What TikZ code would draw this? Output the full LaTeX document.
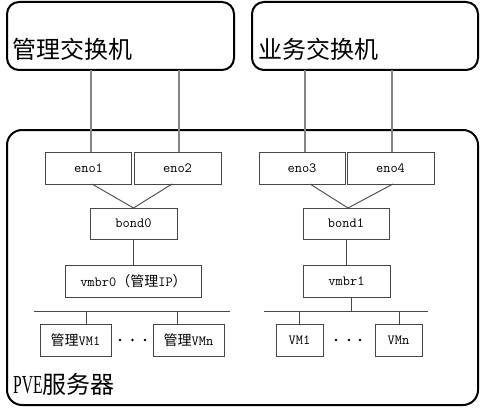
\documentclass[tikz,border=0pt]{standalone}
\usepackage{fontspec}
\usepackage{graphicx}
\setmainfont{Liberation Serif}
\newfontfamily\cjk{Noto Sans CJK SC}
\usetikzlibrary{calc}
\begin{document}
\begin{tikzpicture}[x=1pt,y=-1pt,
  bigbox/.style={draw=black,line width=2pt,rounded corners=12pt,inner sep=0pt,outer sep=0pt},
  netbox/.style={draw=black!72,line width=0.9pt,inner sep=0pt,outer sep=0pt,minimum height=32pt,
    font=\ttfamily\fontsize{14}{16}\selectfont},
  uplink/.style={draw=black!48,line width=1.3pt},
  link/.style={draw=black!72,line width=0.9pt},
  biglabel/.style={anchor=base west,inner sep=0pt,font=\fontsize{24}{28}\selectfont},
  dot/.style={circle,fill=black,inner sep=0pt,minimum size=2.6pt}
]
\useasboundingbox (0,0) rectangle (481,409);
\fill[white] (0,0) rectangle (481,409);

% switches and server
\node[bigbox,minimum width=227pt,minimum height=68pt] (msw) at (120.5,36) {};
\node[bigbox,minimum width=226pt,minimum height=68pt] (bsw) at (365,36) {};
\node[bigbox,rounded corners=15pt,minimum width=471pt,minimum height=275pt] (pve) at (242.5,267.5) {};

\node[biglabel] (mswl) at (12,59) {\cjk 管理交换机};
\node[biglabel] (bswl) at (258,59) {\cjk 业务交换机};
\node[biglabel] (pvel) at (13,393) {\scalebox{0.6}[1]{\fontsize{26}{28}\selectfont PVE}{\cjk 服务器}};

% interfaces
\node[netbox,minimum width=86pt] (eno1) at (88.5,168) {eno1};
\node[netbox,minimum width=87pt] (eno2) at (177.5,168) {eno2};
\node[netbox,minimum width=86pt] (eno3) at (302,168) {eno3};
\node[netbox,minimum width=87pt] (eno4) at (390.5,168) {eno4};

\node[netbox,minimum width=87pt,minimum height=31pt] (bond0) at (133.5,223.5) {bond0};
\node[netbox,minimum width=86pt,minimum height=31pt] (bond1) at (346,223.5) {bond1};

\node[netbox,minimum width=136pt] (vmbr0) at (133.5,281.5) {vmbr0{\cjk （管理}IP{\cjk ）}};
\node[netbox,minimum width=87pt] (vmbr1) at (346.5,281.5) {vmbr1};

% buses
\coordinate (busL1) at (34,311);
\coordinate (busL2) at (230,311);
\coordinate (busR1) at (264,311);
\coordinate (busR2) at (428,311);
\draw[link] (busL1) -- (busL2);
\draw[link] (busR1) -- (busR2);

% VMs
\node[netbox,minimum width=71pt,minimum height=32pt] (mvm1) at (75.5,340.5) {{\cjk 管理}VM1};
\node[netbox,minimum width=71pt,minimum height=32pt] (mvmn) at (188.5,340.5) {{\cjk 管理}VMn};
\node[netbox,minimum width=47pt,minimum height=32pt] (vm1) at (299.5,340.5) {VM1};
\node[netbox,minimum width=47pt,minimum height=32pt] (vmn) at (398.5,340.5) {VMn};

\node[dot] (d1) at (120,340) {};
\node[dot] (d2) at (132.5,340) {};
\node[dot] (d3) at (145,340) {};
\node[dot] (d4) at (336,340) {};
\node[dot] (d5) at (349,340) {};
\node[dot] (d6) at (360,340) {};

% uplinks
\draw[uplink] ([xshift=2.5pt]eno1.north) -- ([xshift=2.5pt]eno1.north |- msw.south);
\draw[uplink] ([xshift=1.5pt]eno2.north) -- ([xshift=1.5pt]eno2.north |- msw.south);
\draw[uplink] ([xshift=3pt]eno3.north) -- ([xshift=3pt]eno3.north |- bsw.south);
\draw[uplink] ([xshift=1.5pt]eno4.north) -- ([xshift=1.5pt]eno4.north |- bsw.south);

% bonds
\draw[link] ([xshift=3.5pt]eno1.south) -- (bond0.north);
\draw[link] ([xshift=-5.5pt]eno2.south) -- (bond0.north);
\draw[link] ([xshift=8pt]eno3.south) -- ([xshift=2pt]bond1.north);
\draw[link] ([xshift=2.5pt]eno4.south) -- ([xshift=2pt]bond1.north);

\draw[link] (bond0.south) -- (vmbr0.north);
\draw[link] (bond1.south) -- ([xshift=-0.5pt]vmbr1.north);
\draw[link] ([xshift=4.5pt]vmbr1.south) -- ([xshift=4.5pt]vmbr1.south |- busR1);

% VM drops
\draw[link] ([xshift=10.5pt]mvm1.north) -- ([xshift=10.5pt]mvm1.north |- busL1);
\draw[link] ([xshift=-11.5pt]mvmn.north) -- ([xshift=-11.5pt]mvmn.north |- busL1);
\draw[link] ([xshift=-0.5pt]vm1.north) -- ([xshift=-0.5pt]vm1.north |- busR1);
\draw[link] ([xshift=0.5pt]vmn.north) -- ([xshift=0.5pt]vmn.north |- busR1);
\end{tikzpicture}
\end{document}
